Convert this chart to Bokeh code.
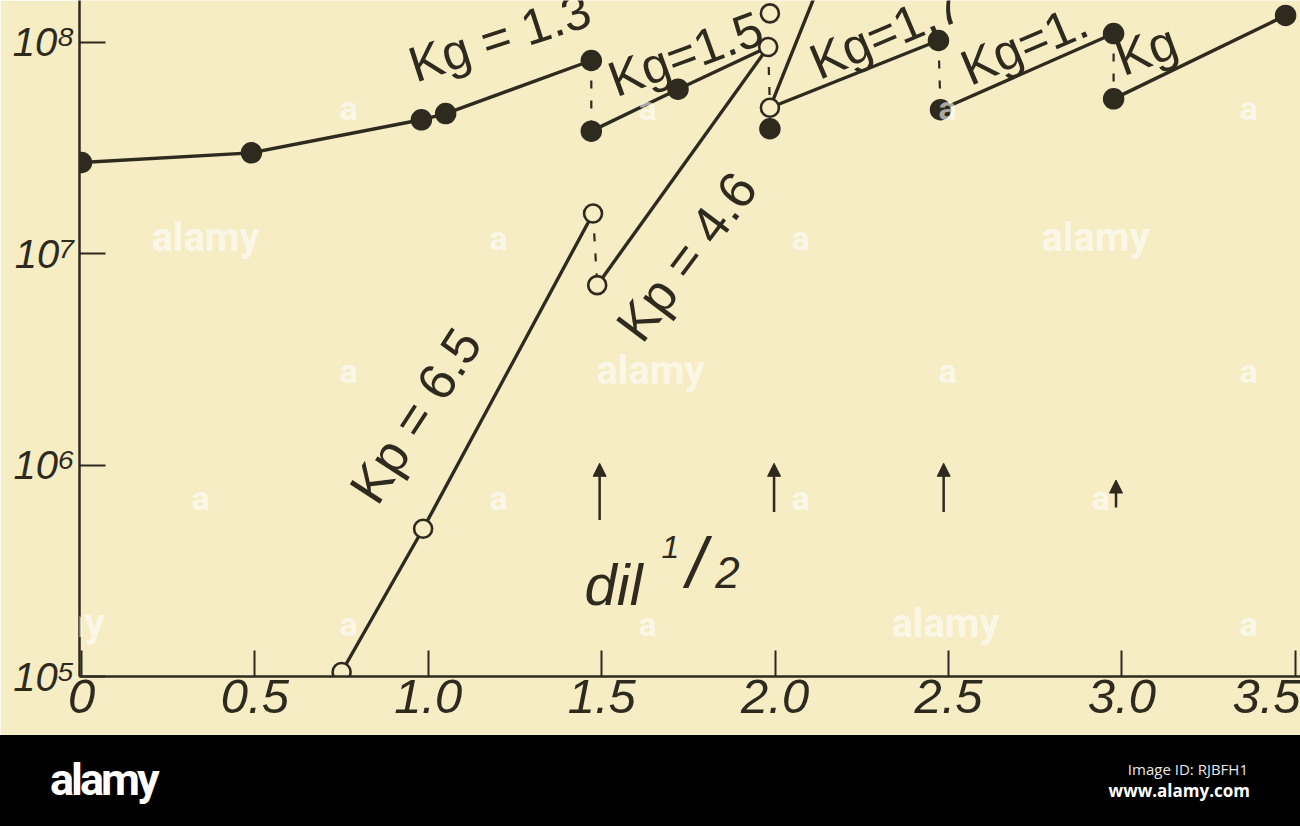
import math
from bokeh.plotting import figure
from bokeh.models import Range1d, FixedTicker, Label, Arrow, NormalHead, Div
from bokeh.layouts import column
from bokeh.embed import file_html
from bokeh.resources import INLINE

BG = "#F6EDC5"
INK = "#2F2A1E"

# ---------------- data ----------------
x_ticks = [0.0, 0.5, 1.0, 1.5, 2.0, 2.5, 3.0, 3.5]
x_labels = ["0", "0.5", "1.0", "1.5", "2.0", "2.5", "3.0", "3.5"]
y_ticks = [1e5, 1e6, 1e7, 1e8]
y_labels = ["10\u2075", "10\u2076", "10\u2077", "10\u2078"]

kg13_x = [0.0, 0.49, 0.98, 1.05, 1.47]
kg13_y = [2.7e7, 3.0e7, 4.3e7, 4.6e7, 8.2e7]
kg15_x = [1.47, 1.72, 1.98]
kg15_y = [3.8e7, 6.0e7, 9.5e7]
kg17_x = [1.985, 2.471]
kg17_y = [4.9e7, 1.02e8]
kg18_x = [2.477, 2.976]
kg18_y = [4.8e7, 1.10e8]
kg19_x = [2.976, 3.472]
kg19_y = [5.4e7, 1.34e8]
kp65_x = [0.75, 0.985, 1.475]
kp65_y = [1.05e5, 5.0e5, 1.55e7]
kp46_x = [1.487, 1.98]
kp46_y = [7.1e6, 9.5e7]
kpx_x = [1.985, 2.17]
kpx_y = [4.9e7, 2.8e8]

filled_x = [0.0, 0.49, 0.98, 1.05, 1.47, 1.47, 1.72, 1.985, 2.471, 2.477, 2.976, 2.976, 3.472]
filled_y = [2.7e7, 3.0e7, 4.3e7, 4.6e7, 8.2e7, 3.8e7, 6.0e7, 3.9e7, 1.02e8, 4.8e7, 1.10e8, 5.4e7, 1.34e8]
open_x = [0.75, 0.985, 1.475, 1.487, 1.98, 1.985, 1.985]
open_y = [1.05e5, 5.0e5, 1.55e7, 7.1e6, 9.5e7, 4.9e7, 1.37e8]

drop_x0 = [1.47, 1.475, 1.98, 2.471, 2.976]
drop_y0 = [8.2e7, 1.55e7, 9.5e7, 1.02e8, 1.10e8]
drop_x1 = [1.47, 1.487, 1.985, 2.477, 2.976]
drop_y1 = [3.8e7, 7.1e6, 4.9e7, 4.8e7, 5.4e7]

dil_x = [1.494, 1.997, 2.486, 2.983]
dil_y0 = [5.5e5, 6.0e5, 6.0e5, 6.3e5]
dil_y1 = [1.02e6, 1.02e6, 1.02e6, 8.5e5]

kg_labels = ["Kg = 1.3", "Kg=1.5", "Kg=1.7", "Kg=1.", "Kg"]
kp_labels = ["Kp = 6.5", "Kp = 4.6"]

# ---------------- figure ----------------
FRAME_L, FRAME_B = 79, 676
FRAME_W, FRAME_H = 1300 - FRAME_L, FRAME_B
PX_X = 346.8
PX_DEC = 211.4
X0 = -0.0058
X1 = X0 + FRAME_W / PX_X
Y0 = 1e5
Y1 = 10 ** (5 + FRAME_H / PX_DEC)


def ax(rx):
    return X0 + (rx - FRAME_L) / PX_X


def ay(ry):
    return 10 ** (5 + (FRAME_B - ry) / PX_DEC)


p = figure(width=1300, height=735, y_axis_type="log",
           x_range=Range1d(X0, X1), y_range=Range1d(Y0, Y1),
           output_backend="svg", toolbar_location=None, title=None,
           min_border_left=FRAME_L, min_border_right=0, min_border_top=0,
           min_border_bottom=735 - FRAME_B, background_fill_color=BG,
           border_fill_color=BG, outline_line_color=None)
p.grid.visible = False

for axis, ticks, labels in ((p.xaxis[0], x_ticks, x_labels), (p.yaxis[0], y_ticks, y_labels)):
    axis.ticker = FixedTicker(ticks=ticks)
    axis.major_label_overrides = dict(zip(ticks, labels))
    axis.minor_tick_line_color = None
    axis.major_tick_in = 26
    axis.major_tick_out = 0
    axis.major_tick_line_width = 2
    axis.major_tick_line_color = INK
    axis.axis_line_width = 2.5
    axis.axis_line_color = INK
    axis.major_label_text_font = "Liberation Sans"
    axis.major_label_text_font_style = "italic"
    axis.major_label_text_color = INK
p.xaxis.major_label_text_font_size = "49px"
p.xaxis.major_label_standoff = 3
p.yaxis.major_label_text_font_size = "40px"
p.yaxis.major_label_standoff = 5

# lines
for xs, ys in ((kg13_x, kg13_y), (kg15_x, kg15_y), (kg17_x, kg17_y), (kg18_x, kg18_y),
               (kg19_x, kg19_y), (kp65_x, kp65_y), (kp46_x, kp46_y), (kpx_x, kpx_y)):
    p.line(xs, ys, line_color=INK, line_width=3.4)

p.segment(drop_x0, drop_y0, drop_x1, drop_y1, line_color=INK, line_width=2.2,
          line_dash="8 12")

p.scatter(filled_x, filled_y, size=20, fill_color=INK, line_color=INK, line_width=1.5)
p.scatter(open_x, open_y, size=18, fill_color=BG, line_color=INK, line_width=2.6)

for x, y0, y1 in zip(dil_x, dil_y0, dil_y1):
    p.add_layout(Arrow(end=NormalHead(size=13, fill_color=INK, line_color=INK, line_width=1),
                       x_start=x, y_start=y0, x_end=x, y_end=y1,
                       line_color=INK, line_width=2.5))

# Kg labels (anchored at left baseline)
kg_anchor = [(410, 66), (610, 81), (812, 64), (963, 70), (1117, 60)]
kg_angle = [18, 20, 23, 23, 20]
for t, (rx, ry), a in zip(kg_labels, kg_anchor, kg_angle):
    p.add_layout(Label(x=ax(rx), y=ay(ry), text=t, angle=a, angle_units="deg",
                       text_align="left", text_baseline="alphabetic",
                       text_font="Liberation Sans", text_font_size="50px",
                       text_color=INK))

kp_center = [(415, 415), (686, 256)]
kp_angle = [57, 53]
for t, (rx, ry), a in zip(kp_labels, kp_center, kp_angle):
    p.add_layout(Label(x=ax(rx), y=ay(ry), text=t, angle=a, angle_units="deg",
                       text_align="center", text_baseline="middle",
                       text_font="Liberation Sans", text_font_size="52px",
                       text_color=INK))

# dil 1/2
p.add_layout(Label(x=ax(584), y=ay(584), text="dil", text_align="left",
                   text_baseline="alphabetic", text_font="Liberation Sans",
                   text_font_style="italic", text_font_size="58px", text_color=INK))
for t, (rx, ry), fs in (("1", (670, 546), "32px"), ("/", (696, 562), "70px"), ("2", (727, 572), "44px")):
    p.add_layout(Label(x=ax(rx), y=ay(ry), text=t, text_align="center",
                       text_baseline="middle", text_font="Liberation Sans",
                       text_font_style="italic", text_font_size=fs, text_color=INK))

# watermark
wm = []
for ry in (107, 370, 623):
    for rx in (50, 348, 647, 947, 1248):
        wm.append((rx, ry))
for ry in (237, 497):
    for rx in (200, 498, 800, 1100):
        wm.append((rx, ry))
big = {(647, 370): (650, 370), (50, 623): (50, 623), (947, 623): (945, 623),
       (200, 237): (205, 237), (1100, 237): (1095, 237)}
for pos in wm:
    if pos in big:
        rx, ry = big[pos]
        txt, fs = "alamy", "40px"
    else:
        rx, ry = pos
        txt, fs = "a", "34px"
    p.add_layout(Label(x=ax(rx), y=ay(ry), text=txt, text_align="center",
                       text_baseline="middle", text_font="Roboto",
                       text_font_style="bold", text_font_size=fs,
                       text_color="white", text_alpha=0.6))

# ---------------- bottom band ----------------
band_html = (
    '<div style="position:relative;width:1300px;height:91px;background:#000;overflow:hidden;margin:0;padding:0;">'
    '<span style="position:absolute;left:50px;top:22px;font-family:Roboto;font-weight:bold;'
    'font-size:45px;line-height:46px;color:#fff;letter-spacing:-3px;">alamy</span>'
    '<span style="position:absolute;right:52px;top:25px;font-family:\'Open Sans\';'
    'font-size:15px;line-height:18px;color:#e8e8e8;white-space:nowrap;">Image ID: RJBFH1</span>'
    '<span style="position:absolute;right:50px;top:46px;font-family:\'Open Sans\';font-weight:bold;'
    'font-size:17px;line-height:20px;color:#fff;white-space:nowrap;">www.alamy.com</span>'
    '</div>'
)
band = Div(text=band_html, width=1300, height=91, margin=0)

layout = column(p, band, spacing=0)
open("out.html", "w").write(file_html(layout, INLINE))
